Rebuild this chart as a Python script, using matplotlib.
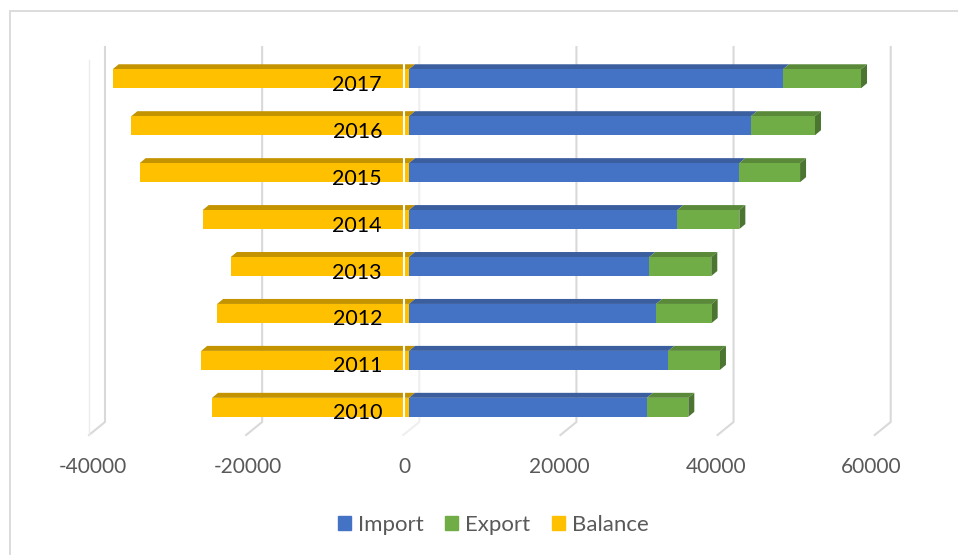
import matplotlib
matplotlib.use('Agg')
import matplotlib.pyplot as plt
from matplotlib.patches import Polygon, Rectangle, Patch
from matplotlib.transforms import offset_copy

# trade figures per year
years = ['2010', '2011', '2012', '2013', '2014', '2015', '2016', '2017']
imports = [30450, 33180, 31610, 30750, 34340, 42270, 43760, 47860]
exports = [5290, 6610, 7120, 7930, 7930, 7770, 8190, 9980]
balance = [-25200, -26590, -24550, -22800, -26400, -34460, -35530, -37920]

x_ticks = [-40000, -20000, 0, 20000, 40000, 60000]
series = ['Import', 'Export', 'Balance']

front_col = {'Import': '#4472C4', 'Export': '#70AD47', 'Balance': '#FFC000'}
top_col = {'Import': '#3B5E9E', 'Export': '#5A8A39', 'Balance': '#C49300'}
side_col = '#4B7530'

plt.rcParams['font.family'] = ['Lato', 'DejaVu Sans']

W, H = 958, 555


def rect(x0, y0, x1, y1):
    # pixel box (from top-left) -> figure fraction
    return [x0 / W, 1 - y1 / H, (x1 - x0) / W, (y1 - y0) / H]


fig = plt.figure(figsize=(W / 100, H / 100), dpi=100)

# back wall with gridlines and the floor edges
ax_wall = fig.add_axes(rect(105, 47, 890.7, 422), zorder=0)
ax_wall.set_xlim(x_ticks[0], x_ticks[-1])
ax_wall.set_ylim(0, 1)
ax_wall.axis('off')
gx = 16 * (x_ticks[-1] - x_ticks[0]) / (890.7 - 105)
gy = 13 / (422 - 47)
for v in x_ticks:
    c = '#efefef' if v == 0 else '#d9d9d9'
    ax_wall.plot([v, v, v - gx], [1, 0, -gy], color=c, lw=1.5, clip_on=False)
ax_wall.plot([x_ticks[0] - gx] * 2, [1 - gy, -gy], color='#ececec', lw=1, clip_on=False)

# front floor edge carries the value labels
ax_floor = fig.add_axes(rect(92.4, 57, 871.4, 435), zorder=1)
ax_floor.set_xlim(x_ticks[0], x_ticks[-1])
ax_floor.set_xticks(x_ticks)
ax_floor.set_xticklabels([str(v) for v in x_ticks])
ax_floor.set_yticks([])
ax_floor.tick_params(axis='x', length=0, pad=15.5, labelsize=15, labelcolor='#595959')
for s in ax_floor.spines.values():
    s.set_visible(False)
ax_floor.patch.set_alpha(0)

# bars
ax = fig.add_axes(rect(96.4, 55.3, 877.9, 430.8), zorder=2)
ax.set_xlim(x_ticks[0], x_ticks[-1])
ax.set_ylim(-0.5, len(years) - 0.5)
ax.axis('off')
ax.patch.set_alpha(0)

h = 19 / 46.93
dx = 6 * (x_ticks[-1] - x_ticks[0]) / (877.9 - 96.4)
dy = 5 * len(years) / (430.8 - 55.3)

ypos = list(range(len(years)))
for i in ypos:
    yt = i + h / 2
    yb = i - h / 2
    segs = [('Balance', balance[i], 0),
            ('Import', 0, imports[i]),
            ('Export', imports[i], imports[i] + exports[i])]
    for name, x0, x1 in segs:
        ax.add_patch(Polygon([(x0, yt), (x1, yt), (x1 + dx, yt + dy), (x0 + dx, yt + dy)],
                             facecolor=top_col[name], edgecolor='none', zorder=2))
    xe = imports[i] + exports[i]
    ax.add_patch(Polygon([(xe, yb), (xe, yt), (xe + dx, yt + dy), (xe + dx, yb + dy)],
                         facecolor=side_col, edgecolor='none', zorder=2))

ax.barh(ypos, imports, height=h, color=front_col['Import'], zorder=3)
ax.barh(ypos, exports, left=imports, height=h, color=front_col['Export'], zorder=3)
ax.barh(ypos, balance, height=h, color=front_col['Balance'], zorder=3)

# white axis line at the front of the floor
ax.vlines(0, -h / 2, len(years) - 1 + h / 2 + dy, color='white', lw=1.5, zorder=4,
          transform=offset_copy(ax.transData, fig=fig, x=-5, y=0, units='dots'))

lab_tr = offset_copy(ax.transData, fig=fig, x=-27, y=-6, units='dots')
for i, yr in enumerate(years):
    ax.text(0, i, yr, transform=lab_tr, ha='right', va='center', fontsize=15.5,
            color='black', zorder=5)

handles = [Patch(color=front_col[s], label=s) for s in series]
fig.legend(handles=handles, loc='center', bbox_to_anchor=(493.4 / W, 1 - 525 / H),
           ncol=3, frameon=False, fontsize=16, handlelength=0.585, handleheight=0.585,
           handletextpad=0.32, columnspacing=0.95, labelcolor='#595959')

fig.add_artist(Rectangle((10 / W, -0.05), 1.1, 1 - 11 / H + 0.05, transform=fig.transFigure,
                         fill=False, edgecolor='#d9d9d9', lw=1.3))

fig.savefig('out.png', dpi=100)
